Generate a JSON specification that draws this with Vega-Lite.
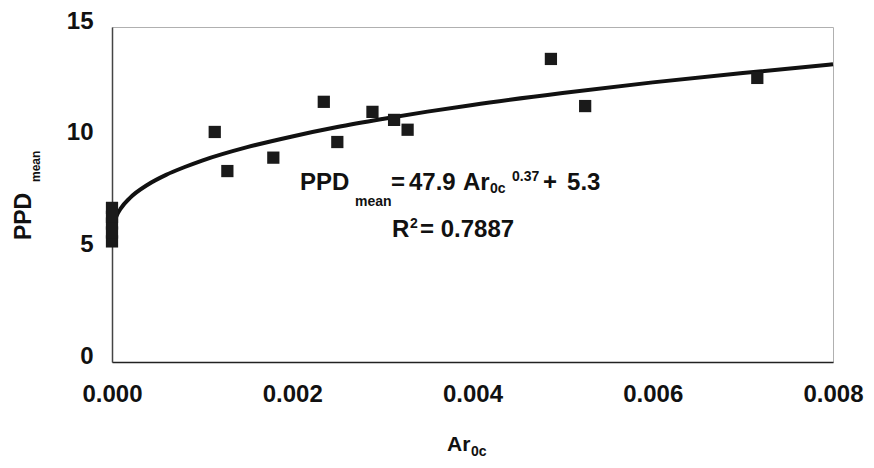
{
  "$schema": "https://vega.github.io/schema/vega-lite/v6.json",
  "width": 721,
  "height": 335,
  "autosize": "none",
  "padding": {"left": 112, "top": 27, "right": 41, "bottom": 106},
  "background": "white",
  "config": {
    "view": {"stroke": "#b0b0b0", "strokeWidth": 1},
    "font": "Liberation Sans"
  },
  "datasets": {
    "points": [
      {"ar": 0.0, "ppd": 5.4},
      {"ar": 0.0, "ppd": 5.8},
      {"ar": 0.0, "ppd": 6.2},
      {"ar": 0.0, "ppd": 6.5},
      {"ar": 0.0, "ppd": 6.9},
      {"ar": 0.00114, "ppd": 10.3},
      {"ar": 0.00128, "ppd": 8.55},
      {"ar": 0.00179, "ppd": 9.15},
      {"ar": 0.00235, "ppd": 11.65},
      {"ar": 0.0025, "ppd": 9.85},
      {"ar": 0.00289, "ppd": 11.2},
      {"ar": 0.00313, "ppd": 10.84},
      {"ar": 0.00328, "ppd": 10.4},
      {"ar": 0.00487, "ppd": 13.57},
      {"ar": 0.00525, "ppd": 11.46},
      {"ar": 0.00716, "ppd": 12.72}
    ],
    "curve": [
      {"ar": 0.00002, "ppd": 6.17},
      {"ar": 0.00005, "ppd": 6.53},
      {"ar": 0.0001, "ppd": 6.89},
      {"ar": 0.0002, "ppd": 7.35},
      {"ar": 0.0004, "ppd": 7.95},
      {"ar": 0.0006, "ppd": 8.38},
      {"ar": 0.0008, "ppd": 8.72},
      {"ar": 0.001, "ppd": 9.02},
      {"ar": 0.0015, "ppd": 9.62},
      {"ar": 0.002, "ppd": 10.1},
      {"ar": 0.0025, "ppd": 10.52},
      {"ar": 0.003, "ppd": 10.88},
      {"ar": 0.0035, "ppd": 11.21},
      {"ar": 0.004, "ppd": 11.51},
      {"ar": 0.005, "ppd": 12.04},
      {"ar": 0.006, "ppd": 12.52},
      {"ar": 0.007, "ppd": 12.94},
      {"ar": 0.008, "ppd": 13.33}
    ],
    "notes": [
      {"kind": "main", "ar": 0.002086, "ppd": 7.7, "label": "PPD"},
      {"kind": "sub", "ar": 0.002696, "ppd": 6.98, "label": "mean"},
      {"kind": "main", "ar": 0.003096, "ppd": 7.7, "label": "="},
      {"kind": "main", "ar": 0.003295, "ppd": 7.7, "label": "47.9"},
      {"kind": "main", "ar": 0.003895, "ppd": 7.7, "label": "Ar"},
      {"kind": "sub", "ar": 0.004194, "ppd": 7.55, "label": "0c"},
      {"kind": "sup", "ar": 0.004438, "ppd": 8.1, "label": "0.37"},
      {"kind": "main", "ar": 0.004782, "ppd": 7.7, "label": "+"},
      {"kind": "main", "ar": 0.005049, "ppd": 7.7, "label": "5.3"},
      {"kind": "main", "ar": 0.003107, "ppd": 5.6, "label": "R"},
      {"kind": "sup", "ar": 0.003307, "ppd": 6.0, "label": "2"},
      {"kind": "main", "ar": 0.003418, "ppd": 5.6, "label": "= 0.7887"},
      {"kind": "title", "ar": 0.003717, "ppd": -3.99, "label": "Ar"},
      {"kind": "sub", "ar": 0.003983, "ppd": -4.21, "label": "0c"},
      {"kind": "vmain", "ar": -0.000899, "ppd": 5.46, "label": "PPD"},
      {"kind": "vsub", "ar": -0.000799, "ppd": 8.06, "label": "mean"}
    ]
  },
  "layer": [
    {
      "data": {"name": "curve"},
      "mark": {"type": "line", "color": "#111111", "strokeWidth": 4, "interpolate": "monotone"},
      "encoding": {
        "x": {
          "field": "ar", "type": "quantitative",
          "scale": {"domain": [0, 0.008], "nice": false},
          "axis": {
            "title": null, "values": [0, 0.002, 0.004, 0.006, 0.008], "format": ".3f",
            "grid": false, "ticks": false, "labelPadding": 20,
            "labelFontSize": 24, "labelFontWeight": "bold", "labelColor": "#111111",
            "labelFont": "Liberation Sans", "domainColor": "#222222", "domainWidth": 1.5,
            "labelFlush": false
          }
        },
        "y": {
          "field": "ppd", "type": "quantitative",
          "scale": {"domain": [0, 15], "nice": false},
          "axis": {
            "title": null, "values": [0, 5, 10, 15],
            "grid": false, "ticks": false, "labelPadding": 19, "labelOffset": -6,
            "labelFontSize": 24, "labelFontWeight": "bold", "labelColor": "#111111",
            "labelFont": "Liberation Sans", "domainColor": "#444444", "domainWidth": 1.5,
            "labelFlush": false
          }
        }
      }
    },
    {
      "data": {"name": "points"},
      "mark": {"type": "point", "shape": "square", "filled": true, "color": "#1a1a1a", "size": 150, "opacity": 1},
      "encoding": {
        "x": {"field": "ar", "type": "quantitative"},
        "y": {"field": "ppd", "type": "quantitative"}
      }
    },
    {
      "data": {"name": "notes"},
      "transform": [{"filter": "datum.kind === 'main'"}],
      "mark": {"type": "text", "align": "left", "baseline": "alphabetic", "fontSize": 24, "fontWeight": "bold", "font": "Liberation Sans", "color": "#111111"},
      "encoding": {
        "x": {"field": "ar", "type": "quantitative"},
        "y": {"field": "ppd", "type": "quantitative"},
        "text": {"field": "label"}
      }
    },
    {
      "data": {"name": "notes"},
      "transform": [{"filter": "datum.kind === 'title'"}],
      "mark": {"type": "text", "align": "left", "baseline": "alphabetic", "fontSize": 21, "fontWeight": "bold", "font": "Liberation Sans", "color": "#111111"},
      "encoding": {
        "x": {"field": "ar", "type": "quantitative"},
        "y": {"field": "ppd", "type": "quantitative"},
        "text": {"field": "label"}
      }
    },
    {
      "data": {"name": "notes"},
      "transform": [{"filter": "datum.kind === 'sub' || datum.kind === 'sup'"}],
      "mark": {"type": "text", "align": "left", "baseline": "alphabetic", "fontSize": 14, "fontWeight": "bold", "font": "Liberation Sans", "color": "#111111"},
      "encoding": {
        "x": {"field": "ar", "type": "quantitative"},
        "y": {"field": "ppd", "type": "quantitative"},
        "text": {"field": "label"}
      }
    },
    {
      "data": {"name": "notes"},
      "transform": [{"filter": "datum.kind === 'vmain'"}],
      "mark": {"type": "text", "align": "left", "baseline": "alphabetic", "angle": 270, "fontSize": 23, "fontWeight": "bold", "font": "Liberation Sans", "color": "#111111"},
      "encoding": {
        "x": {"field": "ar", "type": "quantitative"},
        "y": {"field": "ppd", "type": "quantitative"},
        "text": {"field": "label"}
      }
    },
    {
      "data": {"name": "notes"},
      "transform": [{"filter": "datum.kind === 'vsub'"}],
      "mark": {"type": "text", "align": "left", "baseline": "alphabetic", "angle": 270, "fontSize": 12, "fontWeight": "bold", "font": "Liberation Sans", "color": "#111111"},
      "encoding": {
        "x": {"field": "ar", "type": "quantitative"},
        "y": {"field": "ppd", "type": "quantitative"},
        "text": {"field": "label"}
      }
    }
  ]
}
